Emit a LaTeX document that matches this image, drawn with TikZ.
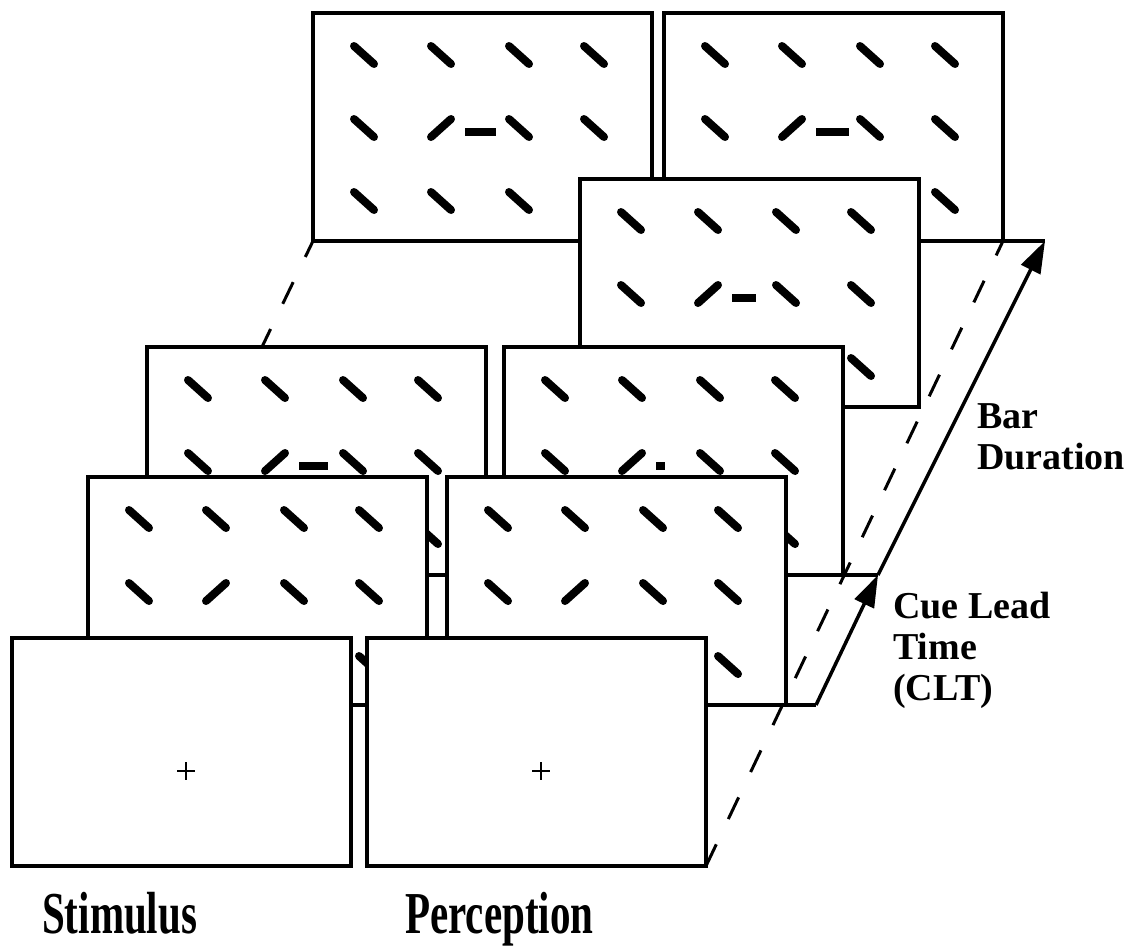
\documentclass[tikz,border=0pt]{standalone}
\usepackage{fontspec}
\setmainfont{Liberation Serif}
\usepackage{graphicx}
\usetikzlibrary{calc, arrows.meta, backgrounds}

\begin{document}
\begin{tikzpicture}[x=1pt, y=-1pt,
    screen/.style={draw, fill=white, line width=3.5pt, minimum width=339pt,
      minimum height=228pt, inner sep=0pt, outer sep=0pt, anchor=north west},
    bar/.style={line width=8pt, line cap=round},
    flash/.style={line width=7.5pt},
    axisline/.style={line width=3.5pt},
    timeline/.style={line width=3pt, dash pattern=on 24pt off 28pt},
    time arrow/.style={axisline, -{Triangle[length=32pt, width=21pt]}},
    tag/.style={font=\bfseries\fontsize{38}{41}\selectfont, align=left,
      anchor=north west, inner sep=0pt}]
  \useasboundingbox (0,0) rectangle (1130,946);

  % Display screens, drawn from the back to the front
  % (name / top-left corner / length of the flashed bar)
  \foreach \f/\x/\y/\len in {s4/313/13/31, p4/664/13/33, p3/580/179/24,
      s2/147/347/29, p2/504/347/9, s1/88/477/0, p1/447/477/0} {
    \node[screen] (\f) at (\x,\y) {};
    % 4 x 3 grid of tilted bars, the cue bar leans the other way
    \foreach \cx in {51,128,206,281}
      \foreach \cy in {42,115,188} {
        \pgfmathtruncatemacro\tilt{(\cx==128 && \cy==115) ? -1 : 1}
        \draw[bar] ($(\f.north west)+(\cx,\cy)$) ++(-10,-9*\tilt) -- ++(20,18*\tilt);
      }
    % flashed horizontal bar
    \ifnum\len>0
      \draw[flash] ($(\f.north west)+(152,119)$) -- ++(\len,0);
    \fi
  }

  % Fixation screens at the front
  \node[screen] (s0) at (12,638) {};
  \node[screen] (p0) at (367,638) {};
  \foreach \f in {s0,p0}
    \draw[line width=2.6pt] ($(\f.north west)+(174,133)$) ++(-9,0) -- ++(18,0) ++(-9,-9) -- ++(0,18);

  % Time axis along the perception screens
  \coordinate (t1) at ($(p1.south east)+(30,0)$);
  \coordinate (t2) at ($(p2.south east)+(35,0)$);
  \coordinate (t4) at ($(p4.south east)+(42,0)$);
  \draw[axisline] (p1.south east) -- (t1);
  \draw[axisline] (p2.south east) -- (t2);
  \draw[axisline] (p4.south east) -- (t4);
  \draw[time arrow] (t1) -- (t2);
  \draw[time arrow] (t2) -- (t4);
  \draw[timeline] (p0.south east) -- (p4.south east);
  \begin{scope}[on background layer]
    \draw[timeline] (s0.south west) -- (s4.south west);
  \end{scope}

  % Labels
  \node[tag] (clt) at (893,592) {Cue Lead\\Time\\(CLT)};
  \node[tag] (dur) at (977,403) {Bar\\Duration};
  \node[anchor=base west, inner sep=0pt, font=\bfseries\fontsize{41}{44}\selectfont]
    (stim) at (42,933) {\scalebox{1}[1.45]{Stimulus}};
  \node[anchor=base west, inner sep=0pt, font=\bfseries\fontsize{41}{44}\selectfont]
    (perc) at (405,933) {\scalebox{1}[1.45]{Perception}};
\end{tikzpicture}
\end{document}
